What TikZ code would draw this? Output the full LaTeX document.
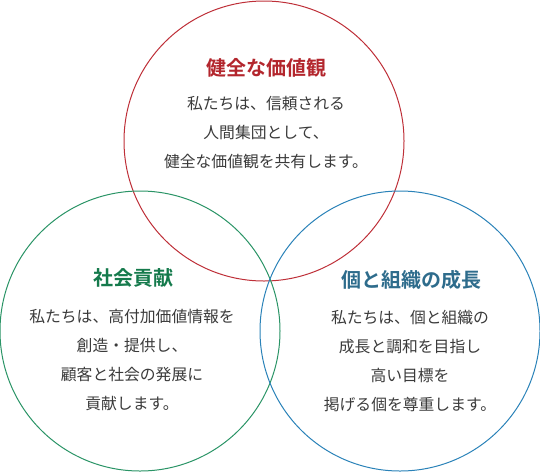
\documentclass[tikz,border=0pt]{standalone}
\usepackage{fontspec}
\newfontfamily\jpfont{Noto Sans CJK JP}
\newfontfamily\jpbold{Noto Sans CJK JP Bold}

\definecolor{valuered}{HTML}{BE2F38}
\definecolor{valuetitle}{HTML}{B3262D}
\definecolor{socgreen}{HTML}{2A9466}
\definecolor{soctitle}{HTML}{157A4C}
\definecolor{growblue}{HTML}{2A82B8}
\definecolor{growtitle}{HTML}{2E6C8C}
\definecolor{bodygray}{HTML}{3A3A3A}

\tikzset{
  ring/.style={circle, draw, line width=1pt, minimum size=280pt, inner sep=0pt},
  heading/.style={font={\jpbold\fontsize{20}{23}\selectfont}},
  bodytext/.style={align=center, text=bodygray, font={\jpfont\fontsize{15.8}{29}\selectfont}}
}

\begin{document}
\begin{tikzpicture}[x=1pt, y=-1pt]
  \useasboundingbox (0,0) rectangle (540,472);

  % three circles
  \node[ring, draw=valuered] (value) at (264,141) {};
  \node[ring, draw=socgreen] (society) at (140,331) {};
  \node[ring, draw=growblue] (growth) at (400,331) {};

  % top: sound values
  \node[heading, text=valuetitle] (valuehead) at (266,68) {健全な価値観};
  \node[bodytext] (valuebody) at (266,133) {私たちは、信頼される\\人間集団として、\\健全な価値観を共有します。};

  % left: contribution to society
  \node[heading, text=soctitle] (sochead) at (133,278) {社会貢献};
  \node[bodytext] (socbody) at (132,360) {私たちは、高付加価値情報を\\創造・提供し、\\顧客と社会の発展に\\貢献します。};

  % right: growth of individual and organization
  \node[heading, text=growtitle] (growhead) at (411,280) {個と組織の成長};
  \node[bodytext] (growbody) at (410,361) {私たちは、個と組織の\\成長と調和を目指し\\高い目標を\\掲げる個を尊重します。};
\end{tikzpicture}
\end{document}
